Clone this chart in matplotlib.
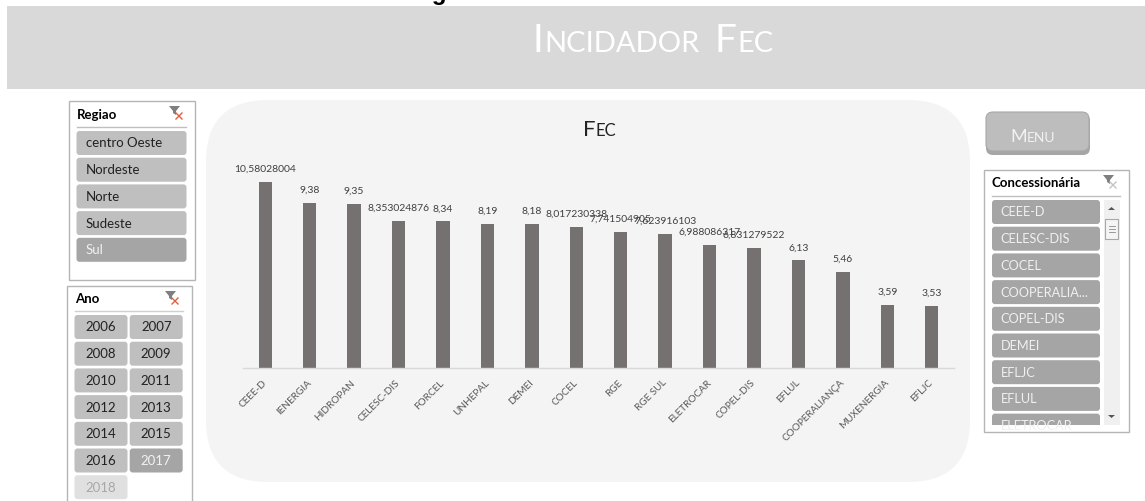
import matplotlib
matplotlib.use("Agg")
import matplotlib.pyplot as plt
from matplotlib.patches import FancyBboxPatch, Rectangle, Polygon

plt.rcParams['font.family'] = ['Lato', 'DejaVu Sans']

W, H = 1145, 502

# chart data
nomes = ["CEEE-D", "IENERGIA", "HIDROPAN", "CELESC-DIS", "FORCEL", "UNHEPAL", "DEMEI", "COCEL",
         "RGE", "RGE SUL", "ELETROCAR", "COPEL-DIS", "EFLUL", "COOPERALIANÇA", "MUXENERGIA", "EFLJC"]
fec = [10.58028004, 9.38, 9.35, 8.353024876, 8.34, 8.19, 8.18, 8.017230338,
       7.741504905, 7.623916103, 6.988086317, 6.831279522, 6.13, 5.46, 3.59, 3.53]
rotulos = ["10,58028004", "9,38", "9,35", "8,353024876", "8,34", "8,19", "8,18", "8,017230338",
           "7,741504905", "7,623916103", "6,988086317", "6,831279522", "6,13", "5,46", "3,59", "3,53"]

# slicers
regioes = ["centro Oeste", "Nordeste", "Norte", "Sudeste", "Sul"]
anos = ["2006", "2007", "2008", "2009", "2010", "2011", "2012", "2013", "2014", "2015", "2016", "2017", "2018"]
concessionarias = ["CEEE-D", "CELESC-DIS", "COCEL", "COOPERALIA...", "COPEL-DIS", "DEMEI", "EFLJC", "EFLUL", "ELETROCAR"]

fig = plt.figure(figsize=(W / 100, H / 100), dpi=100, facecolor="white")
bg = fig.add_axes([0, 0, 1, 1])
bg.set_xlim(0, W)
bg.set_ylim(H - 1, -1)
bg.axis("off")


def caixa(x, y, w, h, cor, r=3, ec="none", z=2, lw=0):
    p = FancyBboxPatch((x + r, y + r), w - 2 * r, h - 2 * r, boxstyle="round,pad=%f,rounding_size=%f" % (r, r),
                       fc=cor, ec=ec, lw=lw, zorder=z)
    bg.add_patch(p)
    return p


def versalete(x, y, txt, grande, pequeno, cor, gap=0.5):
    # small caps: first letter of each word bigger
    r = fig.canvas.get_renderer()
    for palavra in txt.split(" "):
        t = bg.text(x, y, palavra[0], fontsize=grande, color=cor, va="baseline", ha="left", zorder=6)
        x += t.get_window_extent(r).width + gap
        t = bg.text(x, y, palavra[1:], fontsize=pequeno, color=cor, va="baseline", ha="left", zorder=6)
        x += t.get_window_extent(r).width + grande * 0.55


def funil(x, y, cor_x):
    bg.add_patch(Polygon([(x, y), (x + 11, y), (x + 7, y + 5), (x + 7, y + 9), (x + 4, y + 7), (x + 4, y + 5)],
                         fc="#7f7f7f", ec="none", zorder=5))
    bg.plot([x + 7, x + 13], [y + 7, y + 13], color=cor_x, lw=1, zorder=6)
    bg.plot([x + 13, x + 7], [y + 7, y + 13], color=cor_x, lw=1, zorder=6)


# legenda cortada no topo + faixa do titulo
bg.text(410, -1, "Figura 33: Indicador FEC", fontsize=17.5, fontweight="bold", family=["Liberation Sans"],
        color="black", ha="left", va="baseline", zorder=1)
bg.add_patch(Rectangle((7, 6), W - 7, 83, fc="#d9d9d9", ec="none", zorder=2))
versalete(533, 51, "INCIDADOR FEC", 28, 21, "white")

# slicer Regiao
bg.add_patch(Rectangle((68.5, 100.5), 126, 179, fc="white", ec="#b5b5b5", lw=1, zorder=2))
bg.text(77, 114, "Regiao", fontsize=9.5, fontweight="bold", color="black", va="center", zorder=5)
bg.plot([76.5, 186], [126.5, 126.5], color="#bfbfbf", lw=1, zorder=5)
funil(169, 106, "#e0603c")
for i, nome in enumerate(regioes):
    sel = nome == "Sul"
    caixa(76.5, 131 + i * 26.7, 110, 24, "#a5a5a5" if sel else "#bfbfbf", z=3)
    bg.text(85.5, 142.5 + i * 26.7, nome, fontsize=9.5, color="#f0f0f0" if sel else "#222222", va="center", zorder=5)

# slicer Ano
bg.add_patch(Rectangle((66.5, 285.5), 125, 225, fc="white", ec="#b5b5b5", lw=1, zorder=2))
bg.text(75, 298, "Ano", fontsize=9.5, fontweight="bold", color="black", va="center", zorder=5)
bg.plot([74.5, 183], [310.5, 310.5], color="#d0d0d0", lw=1, zorder=5)
funil(165, 291, "#e0603c")
for i, ano in enumerate(anos):
    lin, col = divmod(i, 2)
    x = 74.5 + col * 55.2
    y = 315 + lin * 26.7
    if ano == "2017":
        cor, ctxt = "#a5a5a5", "#f2f2f2"
    elif ano == "2018":
        cor, ctxt = "#e0e0e0", "#a8a8a8"
    else:
        cor, ctxt = "#bfbfbf", "#222222"
    caixa(x, y, 53, 24, cor, z=3)
    bg.text(x + 26.5, y + 11.5, ano, fontsize=9.5, color=ctxt, ha="center", va="center", zorder=5)

# fundo do grafico
caixa(206, 100, 764, 382, "#f4f4f4", r=62, z=1)

# botao menu
caixa(986, 114, 104, 41, "#a6a6a6", r=7, z=2)
caixa(986, 112, 103, 39, "#bdbdbd", r=7, ec="#a8a8a8", z=3, lw=0.8)
versalete(1010, 141, "MENU", 13, 10, "#f2f2f2")

# slicer Concessionaria
bg.add_patch(Rectangle((983.5, 169.5), 145, 263, fc="white", ec="#b5b5b5", lw=1, zorder=2))
bg.text(992, 182.5, "Concessionária", fontsize=9.5, fontweight="bold", color="black", va="center", zorder=5)
bg.plot([992, 1120], [195.5, 195.5], color="#bfbfbf", lw=1, zorder=5)
funil(1103, 175, "#c4c4c4")
clip = Rectangle((990, 198), 112, 227, transform=bg.transData)
for i, nome in enumerate(concessionarias):
    y = 200 + i * 26.7
    p = caixa(992, y, 108, 24, "#a5a5a5", z=3)
    p.set_clip_path(clip)
    t = bg.text(1000.5, y + 11.5, nome, fontsize=9.2, color="#f0f0f0", va="center", zorder=5)
    t.set_clip_path(clip)
# barra de rolagem
bg.add_patch(Rectangle((1104, 200), 16, 225, fc="#f0f0f0", ec="none", zorder=3))
bg.add_patch(Rectangle((1105, 219), 13, 20, fc="#f5f5f5", ec="#a8a8a8", lw=0.8, zorder=4))
bg.plot([1108.5, 1114.5], [226, 226], color="#8a8a8a", lw=0.6, zorder=5)
bg.plot([1108.5, 1114.5], [229, 229], color="#8a8a8a", lw=0.6, zorder=5)
bg.plot([1108.5, 1114.5], [232, 232], color="#8a8a8a", lw=0.6, zorder=5)
bg.add_patch(Polygon([(1108, 210), (1115, 210), (1111.5, 207)], fc="#555555", ec="none", zorder=5))
bg.add_patch(Polygon([(1108, 415), (1115, 415), (1111.5, 418)], fc="#555555", ec="none", zorder=5))

# titulo do grafico
versalete(583, 135, "FEC", 16, 12, "#222222", gap=0)

# grafico de colunas, 243-954 px, base em 368 px
ax = fig.add_axes([243 / W, (H - 369) / H, 711 / W, 200 / H], facecolor="none", zorder=5)
ax.bar(range(len(fec)), fec, width=0.3, color="#767171")
ax.set_xlim(-0.5, len(fec) - 0.5)
ax.set_ylim(0, 200 / 17.58)
ax.set_yticks([])
for lado in ["top", "right", "left"]:
    ax.spines[lado].set_visible(False)
ax.spines["bottom"].set_color("#d9d9d9")
ax.spines["bottom"].set_linewidth(1)
ax.set_xticks(range(len(fec)))
ax.set_xticklabels(nomes, rotation=45, ha="right", va="center", rotation_mode="anchor", fontsize=7.2, color="#595959")
ax.tick_params(axis="x", length=0, pad=9)
for i, v in enumerate(fec):
    ax.annotate(rotulos[i], (i, v), xytext=(0, 6.5), textcoords="offset points", ha="center", va="bottom",
                fontsize=7.5, color="#404040")

fig.savefig("out.png", dpi=100, facecolor="white")
